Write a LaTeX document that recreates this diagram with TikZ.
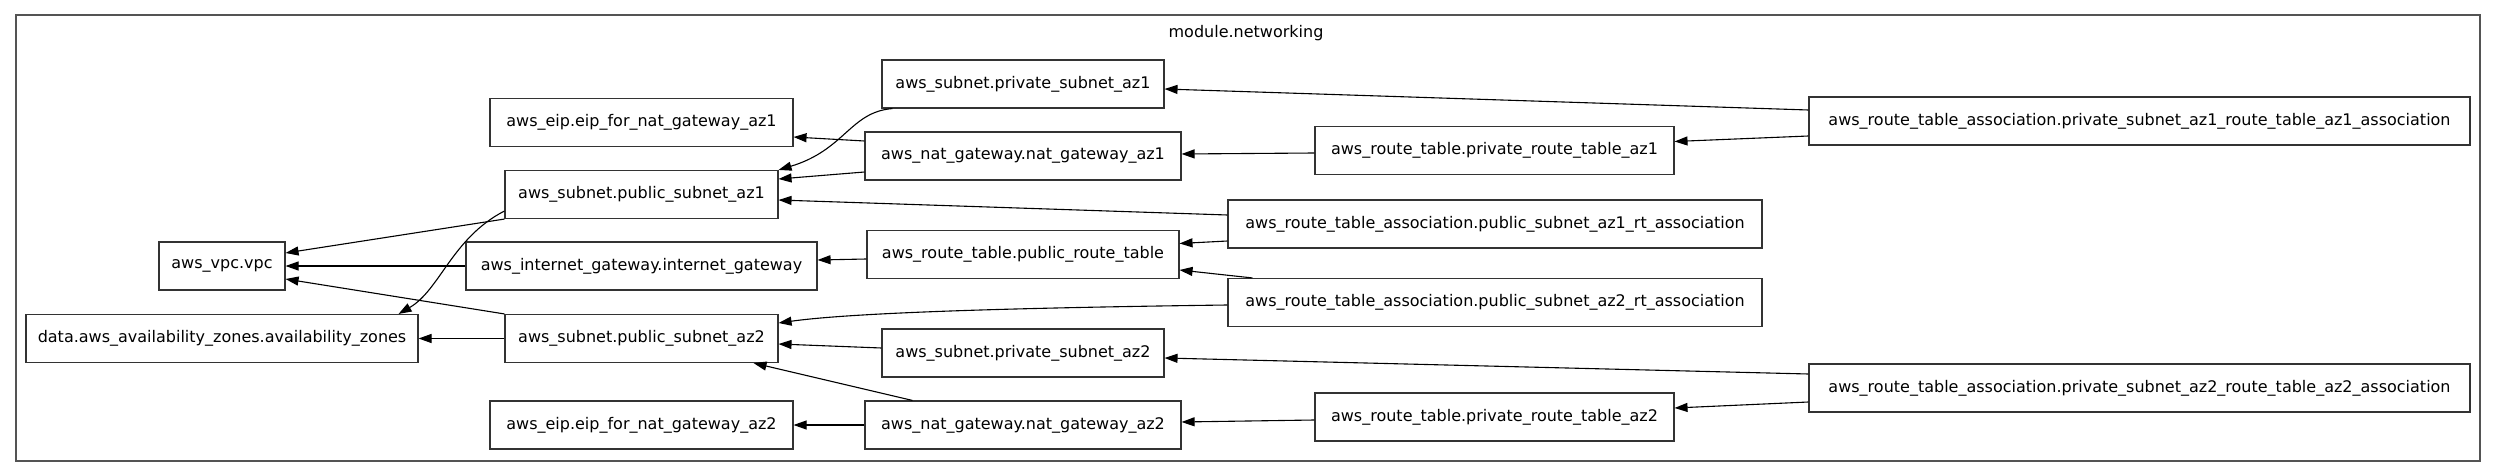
\documentclass[tikz,border=0pt]{standalone}
\usepackage{fontspec}
\setmainfont{DejaVu Sans}
\usetikzlibrary{arrows.meta,calc}
\begin{document}
\begin{tikzpicture}[x=0.5pt,y=-0.5pt,
  box/.style={draw=black!80, line width=0.55pt, inner sep=0pt, minimum height=24pt, font=\fontsize{8}{9.6}\selectfont},
  dep/.style={draw=black, line width=0.55pt, -{Triangle[length=6.5pt,width=4.5pt]}},
  frame/.style={draw=black!67, line width=1pt}]
\useasboundingbox (0,0) rectangle (2495,476);
\draw[frame] (15.5,15.5) rectangle (2479.5,460.5);
\node[font=\fontsize{8}{9.6}\selectfont] (title) at (1246,33) {module.networking};

\node[box, minimum width=63pt] (vpc) at (222,266) {aws\_vpc.vpc};
\node[box, minimum width=196pt] (azs) at (222,338.5) {data.aws\_availability\_zones.availability\_zones};
\node[box, minimum width=151.5pt] (eip1) at (641.5,122.5) {aws\_eip.eip\_for\_nat\_gateway\_az1};
\node[box, minimum width=136.5pt] (ps1) at (641.5,194.5) {aws\_subnet.public\_subnet\_az1};
\node[box, minimum width=175.5pt] (igw) at (641.5,266) {aws\_internet\_gateway.internet\_gateway};
\node[box, minimum width=136.5pt] (ps2) at (641.5,338.5) {aws\_subnet.public\_subnet\_az2};
\node[box, minimum width=151.5pt] (eip2) at (641.5,425) {aws\_eip.eip\_for\_nat\_gateway\_az2};
\node[box, minimum width=141pt] (pv1) at (1023,84) {aws\_subnet.private\_subnet\_az1};
\node[box, minimum width=158pt] (nat1) at (1023,156) {aws\_nat\_gateway.nat\_gateway\_az1};
\node[box, minimum width=156pt] (prt) at (1023,254.5) {aws\_route\_table.public\_route\_table};
\node[box, minimum width=141pt] (pv2) at (1023,353) {aws\_subnet.private\_subnet\_az2};
\node[box, minimum width=158pt] (nat2) at (1023,425) {aws\_nat\_gateway.nat\_gateway\_az2};
\node[box, minimum width=179.5pt] (rt1) at (1494.5,150.5) {aws\_route\_table.private\_route\_table\_az1};
\node[box, minimum width=267pt] (rta1) at (1495,224) {aws\_route\_table\_association.public\_subnet\_az1\_rt\_association};
\node[box, minimum width=267pt] (rta2) at (1495,302.5) {aws\_route\_table\_association.public\_subnet\_az2\_rt\_association};
\node[box, minimum width=179.5pt] (rt2) at (1494.5,417) {aws\_route\_table.private\_route\_table\_az2};
\node[box, minimum width=330.5pt] (a1) at (2139.5,121) {aws\_route\_table\_association.private\_subnet\_az1\_route\_table\_az1\_association};
\node[box, minimum width=330.5pt] (a2) at (2139.5,388) {aws\_route\_table\_association.private\_subnet\_az2\_route\_table\_az2\_association};

% edges
\draw[dep] (ps1.south west) -- ($(vpc.east)+(0,-13)$);
\draw[dep] (igw.west) -- (vpc.east);
\draw[dep] (ps2.north west) -- ($(vpc.east)+(0,13)$);
\draw[dep] (ps2.west) -- (azs.east);
\draw[dep] ($(ps1.west)+(0,16.5)$) .. controls (452,238) and (440,290) .. ($(azs.north east)+(-20,0)$);
\draw[dep] ($(nat1.west)+(0,-15)$) -- ($(eip1.east)+(0,14.5)$);
\draw[dep] ($(nat1.west)+(0,16)$) -- ($(ps1.east)+(0,-15.5)$);
\draw[dep] ($(pv1.south west)+(11,0)$) .. controls (850,112) and (845,150) .. (ps1.north east);
\draw[dep] ($(rta1.west)+(0,-9)$) -- ($(ps1.east)+(0,5.5)$);
\draw[dep] ($(rta1.west)+(0,17)$) -- ($(prt.east)+(0,-11)$);
\draw[dep] ($(prt.west)+(0,4.5)$) -- ($(igw.east)+(0,-6)$);
\draw[dep] ($(rta2.north west)+(25,0)$) -- ($(prt.east)+(0,15.5)$);
\draw[dep] ($(rta2.west)+(0,2.5)$) .. controls (1000,308) and (850,313) .. ($(ps2.east)+(0,-15.5)$);
\draw[dep] ($(pv2.west)+(0,-5)$) -- ($(ps2.east)+(0,5.5)$);
\draw[dep] ($(nat2.north west)+(48,0)$) -- ($(ps2.south east)+(-25,0)$);
\draw[dep] (nat2.west) -- (eip2.east);
\draw[dep] ($(rt1.west)+(0,2.5)$) -- ($(nat1.east)+(0,-2)$);
\draw[dep] ($(rt2.west)+(0,3)$) -- ($(nat2.east)+(0,-3)$);
\draw[dep] ($(a1.west)+(0,-11)$) -- ($(pv1.east)+(0,5)$);
\draw[dep] ($(a1.west)+(0,15)$) -- ($(rt1.east)+(0,-9)$);
\draw[dep] ($(a2.west)+(0,-14)$) -- ($(pv2.east)+(0,5)$);
\draw[dep] ($(a2.west)+(0,14)$) -- ($(rt2.east)+(0,-9)$);
\end{tikzpicture}
\end{document}
